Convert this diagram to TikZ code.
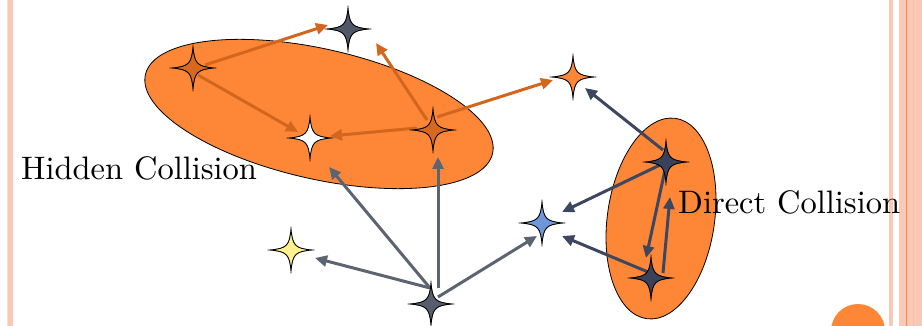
\documentclass[tikz,border=0pt]{standalone}
\usetikzlibrary{arrows.meta,backgrounds}
\definecolor{ellor}{RGB}{253,135,55}
\definecolor{dkor}{RGB}{214,104,32}
\definecolor{arror}{RGB}{210,102,30}
\definecolor{navy}{RGB}{58,66,90}
\definecolor{arrnavy}{RGB}{62,71,96}
\definecolor{grayA}{RGB}{80,87,103}
\definecolor{grayB}{RGB}{86,93,108}
\definecolor{arrgray}{RGB}{92,100,114}
\definecolor{bluestar}{RGB}{110,150,216}
\definecolor{yelstar}{RGB}{255,242,140}
\definecolor{salmon}{RGB}{252,200,182}
\definecolor{bordor}{RGB}{243,140,80}
\tikzset{
  sparkle/.style={circle, minimum size=48pt, inner sep=0pt, path picture={
    \draw[fill=#1, line width=0.9pt, shift={(path picture bounding box.center)}]
      (0,21) .. controls (1.6,4.2) and (4.2,1.6) .. (21,0)
      .. controls (4.2,-1.6) and (1.6,-4.2) .. (0,-21)
      .. controls (-1.6,-4.2) and (-4.2,-1.6) .. (-21,0)
      .. controls (-4.2,1.6) and (-1.6,4.2) .. (0,21) -- cycle;}},
  arr/.style={draw=#1, line width=3pt, -{Triangle[length=12pt,width=11pt]}},
  lbl/.style={inner sep=0pt, font=\fontsize{10}{12}\selectfont},
  blob/.style={fill=ellor, draw=black, line width=0.8pt}
}
\begin{document}
\begin{tikzpicture}[x=1pt,y=-1pt]
\useasboundingbox (0,0) rectangle (922,326);
% stars
\node[sparkle=grayA] (tD) at (348,29) {};
\node[sparkle=dkor] (oL) at (193,68) {};
\node[sparkle=white] (wS) at (310,138) {};
\node[sparkle=dkor] (oR) at (433,130) {};
\node[sparkle=ellor] (oT) at (573,77) {};
\node[sparkle=navy] (dT) at (666,162) {};
\node[sparkle=navy] (dB) at (651,278) {};
\node[sparkle=bluestar] (bS) at (542,223) {};
\node[sparkle=yelstar] (yS) at (291,250) {};
\node[sparkle=grayB] (gB) at (431,304) {};
% labels
\node[lbl, anchor=base west] (hc) at (21,179.3) {\scalebox{3.25}{Hidden Collision}};
\node[lbl, anchor=base west] (dc) at (678,213.3) {\scalebox{3.25}{Direct Collision}};
\begin{scope}[on background layer]
  % border stripes
  \fill[salmon!60] (6.8,0) rectangle (7.7,326);
  \fill[salmon] (8.3,0) rectangle (12.5,326);
  \fill[salmon] (889,0) rectangle (893,326);
  \fill[salmon] (899,0) rectangle (922,326);
  \fill[bordor] (906.2,0) rectangle (907.4,326);
  \fill[salmon!85!bordor] (912.6,0) rectangle (913.6,326);
  \fill[ellor] (858,331) circle [radius=27];
  % groups
  \draw[blob, shift={(319,114)}, rotate=-12.8] (0,0) ellipse [x radius=178, y radius=65];
  \draw[blob, shift={(661,218.5)}, rotate=-8.2] (0,0) ellipse [x radius=53.6, y radius=101.2];
  % orange arrows
  \draw[arr=arror] ([shift={(12,-3)}]oL.center) -- ([shift={(-20,-4)}]tD.center);
  \draw[arr=arror] ([shift={(5,7)}]oL.center) -- ([shift={(-12,-6)}]wS.center);
  \draw[arr=arror] ([shift={(-16,-2)}]oR.center) -- ([shift={(20,-2)}]wS.center);
  \draw[arr=arror] ([shift={(-6,-10)}]oR.center) -- ([shift={(28,14)}]tD.center);
  \draw[arr=arror] ([shift={(4,-13)}]oR.center) -- ([shift={(-20,3)}]oT.center);
  % navy arrows
  \draw[arr=arrnavy] ([shift={(-3,-12)}]dT.center) -- ([shift={(12,11)}]oT.center);
  \draw[arr=arrnavy] ([shift={(-6,3)}]dT.center) -- ([shift={(20,-11)}]bS.center);
  \draw[arr=arrnavy] ([shift={(-1,8)}]dT.center) -- ([shift={(-5,-20)}]dB.center);
  \draw[arr=arrnavy] ([shift={(12,-5)}]dB.center) -- ([shift={(4,35)}]dT.center);
  \draw[arr=arrnavy] ([shift={(-3,-6)}]dB.center) -- ([shift={(20,13)}]bS.center);
  % gray arrows
  \draw[arr=arrgray] ([shift={(-1,-16)}]gB.center) -- ([shift={(24,8)}]yS.center);
  \draw[arr=arrgray] ([shift={(-1,-16)}]gB.center) -- ([shift={(19,29)}]wS.center);
  \draw[arr=arrgray] ([shift={(7,-16)}]gB.center) -- ([shift={(5,27)}]oR.center);
  \draw[arr=arrgray] ([shift={(7,-7)}]gB.center) -- ([shift={(-5,13)}]bS.center);
\end{scope}
\end{tikzpicture}
\end{document}
